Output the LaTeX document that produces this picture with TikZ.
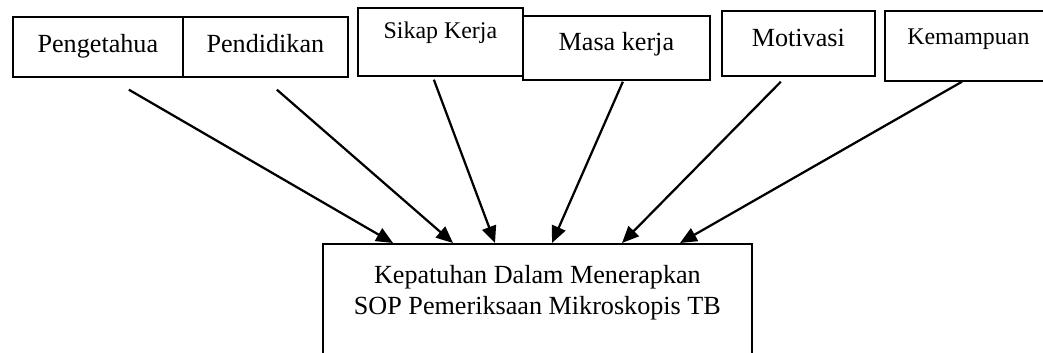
\documentclass[tikz,border=0pt]{standalone}
\usepackage{fontspec}
\setmainfont{Liberation Serif}
\usetikzlibrary{positioning,calc,arrows.meta}
\tikzset{
  factor_rec/.style={draw, line width=1.2pt, anchor=north west, inner sep=0pt,
    text height=0.45cm, font=\fontsize{18.6}{22}\selectfont},
  small_rec/.style={factor_rec, text height=0.4cm, font=\fontsize{17}{20}\selectfont},
  arrow_line/.style={line width=1.6pt, -{Triangle[length=0.42cm, width=0.36cm]}}
}
\begin{document}
\begin{tikzpicture}[x=0.025cm, y=-0.025cm]
\useasboundingbox (0,0) rectangle (1043,353);
\clip (0,0) rectangle (1043,353);

\node[factor_rec, minimum width=4.25cm, minimum height=1.5cm,
    text depth=0.15cm](box_peng)at(12,16){Pengetahua};
\node[factor_rec, minimum width=4.125cm, minimum height=1.5cm,
    text depth=0.15cm](box_pend)at(182,16){Pendidikan};
\node[factor_rec, minimum width=4.675cm, minimum height=1.6cm,
    text depth=0.3cm](box_masa)at(522,15){Masa kerja};
\node[small_rec, minimum width=4.125cm, minimum height=1.7cm,
    text depth=0.55cm](box_sikap)at(357,7){Sikap Kerja};
\node[factor_rec, minimum width=3.825cm, minimum height=1.625cm,
    text depth=0.29cm](box_motiv)at(721,10){Motivasi};
\node[small_rec, minimum width=4.175cm, minimum height=1.75cm,
    text depth=0.485cm](box_kemamp)at(884,10){Kemampuan};

\node[draw, line width=1.2pt, anchor=north west, minimum width=10.725cm,
    minimum height=3.5cm](box_kep)at(322,243){};
\node[inner sep=0pt, align=center, font=\fontsize{18.6}{22}\selectfont]
    (kep_text)[below=0.55cm of box_kep.north]{Kepatuhan Dalam Menerapkan\\SOP Pemeriksaan Mikroskopis TB};

%arrows to the bottom box
\draw[arrow_line]($(box_peng.south)+(31,12)$)--($(box_kep.north west)+(71,0)$);
\draw[arrow_line]($(box_pend.south)+(11.5,12)$)--($(box_kep.north west)+(131,0)$);
\draw[arrow_line]($(box_sikap.south)+(-6.5,3)$)--($(box_kep.north west)+(173,0)$);
\draw[arrow_line]($(box_masa.south)+(6.5,1)$)--($(box_kep.north west)+(230,0)$);
\draw[arrow_line]($(box_motiv.south)+(-17.5,5)$)--($(box_kep.north west)+(300,0)$);
\draw[arrow_line]($(box_kemamp.south west)+(78,0)$)--($(box_kep.north west)+(358,0)$);
\end{tikzpicture}
\end{document}
